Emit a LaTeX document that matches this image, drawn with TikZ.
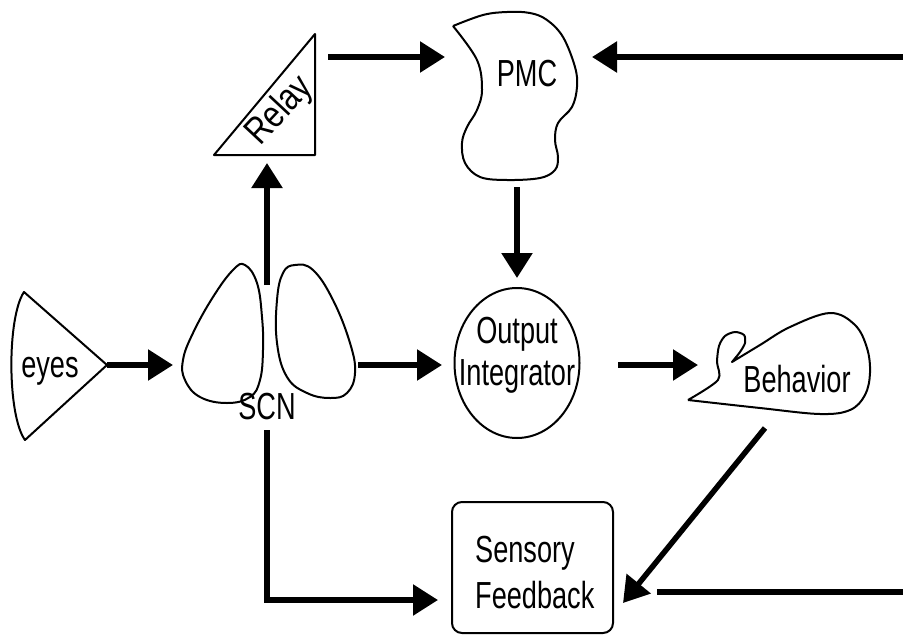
\documentclass[tikz,border=0pt]{standalone}
\usepackage{fontspec}
\setmainfont[FakeStretch=0.72]{Liberation Sans}
\newfontfamily\relayfont[FakeStretch=0.82]{Liberation Sans}
\usetikzlibrary{arrows.meta,shapes.geometric}
\begin{document}
\begin{tikzpicture}[x=1pt,y=-1pt,
  shp/.style={draw, line width=2pt, line join=round},
  arr/.style={line width=5.5pt, -{Triangle[length=25pt,width=30pt]}},
  ln/.style={line width=5.5pt},
  lbl/.style={font=\fontsize{37.7pt}{44pt}\selectfont, inner sep=0pt}]
\useasboundingbox (0,0) rectangle (903,635);
% eyes
\draw[shp] (24,292) -- (107,365) -- (25,440) .. controls (7,415) and (7,317) .. cycle;
\node[lbl, anchor=base] (eyes) at (50,377) {eyes};
% SCN lobes
\draw[shp] plot[smooth cycle, tension=0.7] coordinates {(245,265) (257,283) (262,317) (263,350) (260,380) (250,397) (227,403) (200,397) (185,380) (183,360) (193,333) (213,297) (233,270)};
\draw[shp] plot[smooth cycle, tension=0.7] coordinates {(295,265) (313,270) (333,300) (350,343) (355,373) (347,393) (330,398) (307,393) (287,377) (277,343) (277,300) (283,273)};
\node[lbl, anchor=base] (scn) at (267,419) {SCN};
% Relay
\draw[shp] (214,155) -- (315,34) -- (315,155) -- cycle;
\node[inner sep=0pt, rotate=47, font=\relayfont\fontsize{37.7pt}{44pt}\selectfont] (relay) at (280,111) {Relay};
% PMC
\draw[shp] plot[smooth, tension=0.6] coordinates {(453,26) (483,15) (507,12) (530,13) (547,20) (563,37) (575,67) (577,87) (572,107) (558,123) (555,140) (558,157) (555,170) (540,178) (507,180) (480,177) (465,163) (462,143) (467,127) (477,110) (482,90) (477,60) (453,26)};
\node[lbl, anchor=base] (pmc) at (527,86) {PMC};
% Output Integrator
\node[draw, ellipse, line width=2pt, minimum width=125pt, minimum height=150pt, inner sep=0pt] (oi) at (517,363) {};
\node[lbl, anchor=base] (oi1) at (517,343) {Output};
\node[lbl, anchor=base] (oi2) at (517,385) {Integrator};
% Behavior
\draw[shp] plot[smooth, tension=0.5] coordinates {(688,400) (718,380) (717,362) (719,346) (725,336) (735,332) (744,335) (745,343) (740,352) (732,362)}
  -- plot[smooth, tension=0.6] coordinates {(732,362) (760,345) (790,327) (830,313) (855,325) (867,348) (870,373) (865,395) (850,410) (820,414) (760,408) (688,400)};
\node[lbl, anchor=base] (beh) at (797,392) {Behavior};
% Sensory Feedback
\node[draw, line width=2pt, rounded corners=10pt, minimum width=161pt, minimum height=131pt] (sf) at (532.5,567.5) {};
\node[lbl, anchor=base west] (sf1) at (475,562) {Sensory};
\node[lbl, anchor=base west] (sf2) at (475,608) {Feedback};
% connector ends
\coordinate (eyesTip) at (107,365);
\coordinate (scnIn) at (173,365);
\coordinate (scnOut) at (358,365);
\coordinate (oiIn) at (442,365);
\coordinate (oiOut) at (618,365);
\coordinate (behIn) at (698,365);
\coordinate (scnTop) at (267,285);
\coordinate (relayIn) at (267,163);
\coordinate (relayOut) at (328,57);
\coordinate (pmcIn) at (445,57);
\coordinate (rightTop) at (903,57);
\coordinate (pmcInR) at (592,57);
\coordinate (pmcOut) at (517,187);
\coordinate (oiTop) at (517,278);
\coordinate (scnBot) at (267,430);
\coordinate (sfInL) at (438,600);
\coordinate (behOut) at (765,428);
\coordinate (sfInR) at (623,603);
\coordinate (sfOut) at (657,592);
\coordinate (rightBot) at (903,592);
% connectors
\draw[arr] (eyesTip) -- (scnIn);
\draw[arr] (scnOut) -- (oiIn);
\draw[arr] (oiOut) -- (behIn);
\draw[arr] (scnTop) -- (relayIn);
\draw[arr] (relayOut) -- (pmcIn);
\draw[arr] (rightTop) -- (pmcInR);
\draw[arr] (pmcOut) -- (oiTop);
\draw[arr] (scnBot) |- (sfInL);
\draw[arr] (behOut) -- (sfInR);
\draw[ln] (sfOut) -- (rightBot);
\end{tikzpicture}
\end{document}
